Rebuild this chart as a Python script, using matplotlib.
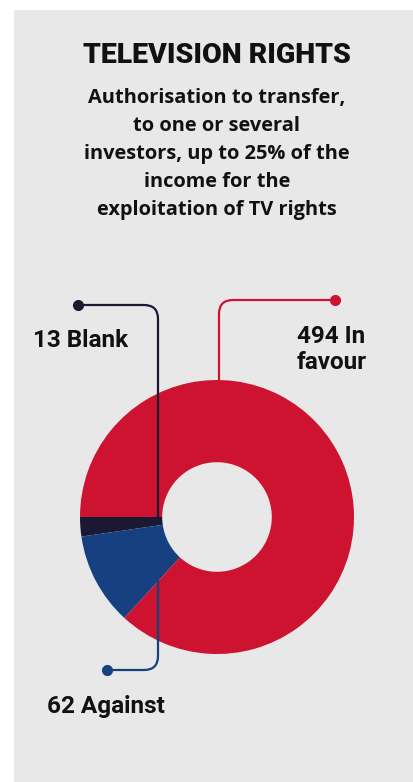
import numpy as np
import matplotlib
matplotlib.use("Agg")
import matplotlib.pyplot as plt
from matplotlib.path import Path
from matplotlib.patches import PathPatch, Rectangle

# ==========================================
# Data
# ==========================================
labels = ["Blank", "Against", "In favour"]
votes = [13, 62, 494]
colors = ["#1b1834", "#174080", "#ce1330"]

title = "TELEVISION RIGHTS"
subtitle = [
    "Authorisation to transfer,",
    "to one or several",
    "investors, up to 25% of the",
    "income for the",
    "exploitation of TV rights",
]

W, H = 414, 782
fig = plt.figure(figsize=(W / 100, H / 100), dpi=100)
fig.patch.set_facecolor("white")
ax = fig.add_axes([0, 0, 1, 1])

# panel background
ax.add_patch(Rectangle((14, 10), 399, 772, facecolor="#e8e8e8", edgecolor="none", zorder=0))

# ==========================================
# Donut
# ==========================================
cx, cy, r = 217, 517, 137
ax.pie(votes, colors=colors, startangle=180, counterclock=False,
       center=(cx, cy), radius=r,
       wedgeprops=dict(width=r * 0.6, edgecolor="none"))

ax.set_xlim(0, W)
ax.set_ylim(H, 0)
ax.set_aspect("auto")
ax.axis("off")


def leader(pts, color, rad=14):
    """polyline with one rounded corner, dot at the last point"""
    (x0, y0), (x1, y1), (x2, y2) = pts
    d1 = np.array([x1 - x0, y1 - y0], float)
    d1 /= np.linalg.norm(d1)
    d2 = np.array([x2 - x1, y2 - y1], float)
    d2 /= np.linalg.norm(d2)
    a = (x1 - d1[0] * rad, y1 - d1[1] * rad)
    b = (x1 + d2[0] * rad, y1 + d2[1] * rad)
    path = Path([(x0, y0), a, (x1, y1), b, (x2, y2)],
                [Path.MOVETO, Path.LINETO, Path.CURVE3, Path.CURVE3, Path.LINETO])
    ax.add_patch(PathPatch(path, facecolor="none", edgecolor=color, lw=1.6,
                           capstyle="butt", zorder=5))
    ax.plot([x2], [y2], "o", color=color, ms=7, zorder=6)


leader([(158, cy), (158, 305), (78, 305)], colors[0])
leader([(158, 580), (158, 670), (107, 670)], colors[1])
leader([(219, cy - r), (219, 300), (335, 300)], colors[2])

# ==========================================
# Text
# ==========================================
ax.text(217, 63, title, ha="center", va="baseline", fontsize=20.5,
        fontweight="black", family="Roboto", color="#111111")
for i, line in enumerate(subtitle):
    ax.text(217, 103 + i * 28, line, ha="center", va="baseline",
            fontsize=14.4, fontweight="bold", family="Open Sans", color="#111111")

lab_kw = dict(va="baseline", fontsize=17.5, fontweight="bold", family="Roboto", color="#111111")
ax.text(33, 347, f"{votes[0]} {labels[0]}", ha="left", **lab_kw)
ax.text(47, 713, f"{votes[1]} {labels[1]}", ha="left", **lab_kw)
ax.text(297, 343, f"{votes[2]} In", ha="left", **lab_kw)
ax.text(297, 369, "favour", ha="left", **lab_kw)

plt.savefig("out.png", dpi=100)
plt.close()
